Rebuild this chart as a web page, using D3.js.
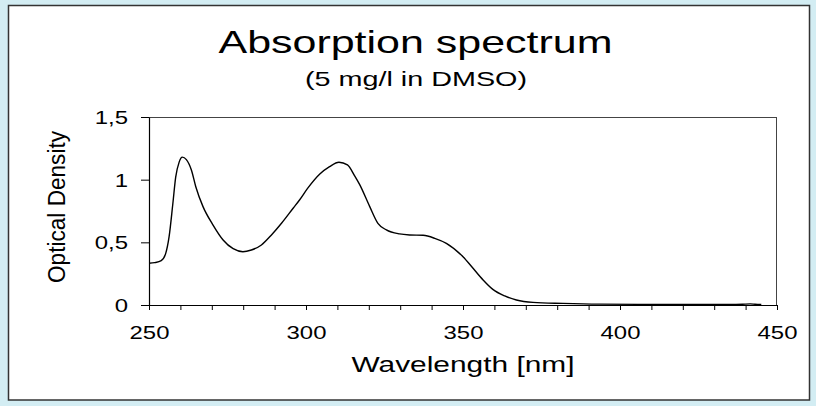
<!DOCTYPE html>
<html><head><meta charset="utf-8">
<script src="https://cdn.jsdelivr.net/npm/d3@7"></script>
<style>
html,body{margin:0;padding:0;background:#d3edf3;}
svg{display:block;}
text{font-family:"Liberation Sans",Arial,sans-serif;fill:#000;}
</style></head>
<body>
<svg id="chart" width="816" height="406"></svg>
<script>
const wavelength = [250,251.8,253.9,255.3,256.4,257.6,258.5,259.6,260.6,261.9,263.5,264.9,267.2,270.4,273.6,276.8,279.9,282.6,285.8,289,292.2,295.9,298,300.5,304.4,307.5,310.5,313.2,315.5,317.1,320.3,322.9,325.6,329.8,333,337.3,341,344.7,350,353.2,356.4,359.5,363.3,367,372.3,381.8,393.5,410,425,435,439,441.5,443,445];
const density    = [0.333,0.338,0.354,0.41,0.545,0.81,1.02,1.14,1.18,1.16,1.077,0.944,0.785,0.638,0.519,0.449,0.425,0.439,0.479,0.559,0.652,0.772,0.84,0.93,1.045,1.104,1.139,1.118,1.03,0.96,0.785,0.652,0.599,0.567,0.559,0.556,0.532,0.492,0.385,0.293,0.2,0.125,0.072,0.04,0.021,0.013,0.007,0.005,0.004,0.004,0.006,0.009,0.006,0.004];
const xTicks = [250,300,350,400,450];
const xMinorTicks = d3.range(250,451,10);
const yTicks = [0,0.5,1,1.5];
const yTickLabels = ["0","0,5","1","1,5"];
const titleText = "Absorption spectrum";
const subtitleText = "(5 mg/l in DMSO)";
const xTitle = "Wavelength [nm]";
const yTitle = "Optical Density";

const svg = d3.select("#chart");
const SX = 1.33;
// panel
svg.append("rect").attr("x",8.5).attr("y",5.5).attr("width",801).attr("height",394.5)
  .attr("fill","#fff").attr("stroke","#333").attr("stroke-width",1.5);

const x = d3.scaleLinear().domain([250,450]).range([149,777]);
const y = d3.scaleLinear().domain([0,1.5]).range([305,117]);

// frame top/right
svg.append("line").attr("x1",149).attr("x2",777).attr("y1",117.5).attr("y2",117.5).attr("stroke","#444").attr("stroke-width",1);
svg.append("line").attr("x1",776.5).attr("x2",776.5).attr("y1",117).attr("y2",305).attr("stroke","#444").attr("stroke-width",1);

// x minor ticks
const gxm = svg.append("g").attr("transform","translate(0,305)")
  .call(d3.axisBottom(x).tickValues(xMinorTicks).tickSize(5).tickFormat(""));
gxm.select(".domain").remove();
gxm.selectAll("line").attr("stroke","#000");

const gx = svg.append("g").attr("transform","translate(0,305)")
  .call(d3.axisBottom(x).tickValues(xTicks).tickSize(5).tickSizeOuter(0).tickFormat(d3.format("d")));
gx.select(".domain").attr("stroke","#000").attr("stroke-width",1.2);
gx.selectAll("line").attr("stroke","#000");
gx.selectAll("text").attr("y",0).attr("dy",null).attr("font-size",18)
  .attr("transform",`translate(0,34) scale(${SX},1)`);

const gy = svg.append("g").attr("transform","translate(149,0)")
  .call(d3.axisLeft(y).tickValues(yTicks).tickSize(8).tickSizeOuter(0).tickFormat((d,i)=>yTickLabels[i]));
gy.select(".domain").attr("stroke","#000").attr("stroke-width",1.2);
gy.selectAll("line").attr("stroke","#000");
gy.selectAll("text").attr("x",0).attr("dy",null).attr("font-size",18)
  .attr("transform",`translate(-21,6.5) scale(${SX},1)`);

// curve
const line = d3.line().x((d,i)=>x(wavelength[i])).y(d=>y(d)).curve(d3.curveMonotoneX);
svg.append("path").datum(density).attr("d",line).attr("fill","none").attr("stroke","#000").attr("stroke-width",1.4);

// titles
svg.append("text").attr("x",415.5).attr("y",53).attr("text-anchor","middle").attr("font-size",32)
  .attr("textLength",394).attr("lengthAdjust","spacingAndGlyphs").text(titleText);
svg.append("text").attr("x",416).attr("y",86).attr("text-anchor","middle").attr("font-size",21)
  .attr("textLength",222).attr("lengthAdjust","spacingAndGlyphs").text(subtitleText);
svg.append("text").attr("x",463).attr("y",372).attr("text-anchor","middle").attr("font-size",22)
  .attr("textLength",223).attr("lengthAdjust","spacingAndGlyphs").text(xTitle);
svg.append("g").attr("transform","translate(65,207) rotate(-90) scale(1,1.15)")
  .append("text").attr("x",0).attr("y",0).attr("text-anchor","middle").attr("font-size",20)
  .attr("textLength",152).attr("lengthAdjust","spacingAndGlyphs")
  .text(yTitle);
</script>
</body></html>
